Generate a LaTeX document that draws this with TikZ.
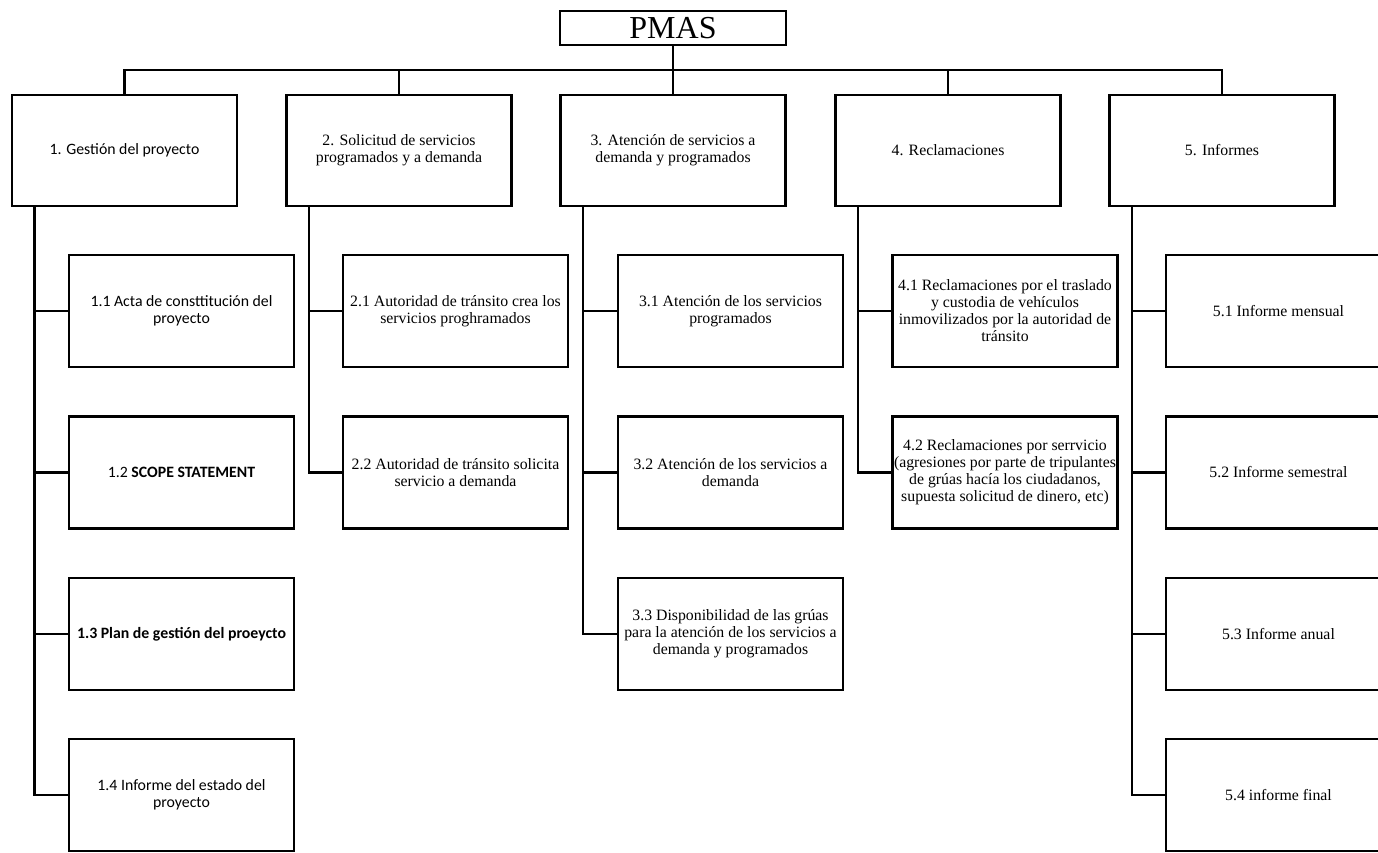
\documentclass[tikz,border=0pt]{standalone}
\usepackage{fontspec}
\setmainfont{Liberation Serif}
\newfontfamily\calfont{Carlito}
\begin{document}
\begin{tikzpicture}[x=1pt,y=-1pt,
  box/.style={draw=black,line width=2.2pt,align=center,inner sep=1pt,
    font=\fontsize{15.8}{17}\selectfont},
  topbox/.style={box,minimum width=225pt,minimum height=111pt},
  subbox/.style={box,minimum width=225pt,minimum height=112pt},
  sans/.style={font=\calfont\fontsize{15.8}{17}\selectfont},
  link/.style={line width=2.7pt}]
\useasboundingbox (0,0) rectangle (1378,853);

% root
\node[box,minimum width=226pt,minimum height=34pt,inner sep=0pt,
  font=\fontsize{32}{34}\selectfont] (top) at (673,28) {PMAS};

% first level
\node[topbox,sans] (g1) at (124.5,150.5) {1. Gestión del proyecto};
\node[topbox] (g2) at (399,150.5) {2. Solicitud de servicios\\programados y a demanda};
\node[topbox] (g3) at (673,150.5) {3. Atención de servicios a\\demanda y programados};
\node[topbox] (g4) at (948,150.5) {4. Reclamaciones};
\node[topbox] (g5) at (1222,150.5) {5. Informes};

% second level
\node[subbox,sans] (c11) at (181.5,311) {1.1 Acta de consttitución del\\proyecto};
\node[subbox,sans] (c12) at (181.5,472.5) {1.2 \textbf{SCOPE STATEMENT}};
\node[subbox,sans] (c13) at (181.5,634) {\textbf{1.3 Plan de gestión del proeycto}};
\node[subbox,sans] (c14) at (181.5,795) {1.4 Informe del estado del\\proyecto};

\node[subbox] (c21) at (455.5,311) {2.1 Autoridad de tránsito crea los\\servicios proghramados};
\node[subbox] (c22) at (455.5,472.5) {2.2 Autoridad de tránsito solicita\\servicio a demanda};

\node[subbox] (c31) at (730.5,311) {3.1 Atención de los servicios\\programados};
\node[subbox] (c32) at (730.5,472.5) {3.2 Atención de los servicios a\\demanda};
\node[subbox] (c33) at (730.5,634) {3.3 Disponibilidad de las grúas\\para la atención de los servicios a\\demanda y programados};

\node[subbox] (c41) at (1005,311) {4.1 Reclamaciones por el traslado\\y custodia de vehículos\\inmovilizados por la autoridad de\\tránsito};
\node[subbox] (c42) at (1005,472.5) {4.2 Reclamaciones por serrvicio\\(agresiones por parte de tripulantes\\de grúas hacía los ciudadanos,\\supuesta solicitud de dinero, etc)};

\node[subbox] (c51) at (1278.5,311) {5.1 Informe mensual};
\node[subbox] (c52) at (1278.5,472.5) {5.2 Informe semestral};
\node[subbox] (c53) at (1278.5,634) {5.3 Informe anual};
\node[subbox] (c54) at (1278.5,795) {5.4 informe final};

% root to first level
\coordinate (bus) at (673,70);
\draw[link] (top.south) -- (bus);
\draw[link] (g1.north) |- (bus) -| (g5.north);
\foreach \g in {g2,g3,g4}
  \draw[link] (\g.north) -- (\g.north |- bus);

% first level to second level
\foreach \g/\last/\others in {g1/c14/{c11,c12,c13}, g2/c22/{c21}, g3/c33/{c31,c32},
                               g4/c42/{c41}, g5/c54/{c51,c52,c53}} {
  \coordinate (\g-b) at ([xshift=23.5pt]\g.south west);
  \draw[link] (\g-b) |- (\last.west);
  \foreach \c in \others
    \draw[link] (\g-b |- \c.west) -- (\c.west);
}
\end{tikzpicture}
\end{document}
